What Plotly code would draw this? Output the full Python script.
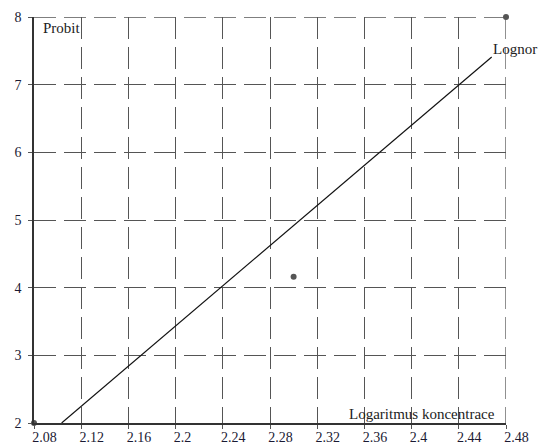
import plotly.graph_objects as go

# data
point_x = [2.08, 2.30, 2.48]
point_y = [2.0, 4.16, 8.0]
lognor_x = [2.1034, 2.4679]
lognor_y = [2.0, 7.41]
x_ticks = [2.08, 2.12, 2.16, 2.20, 2.24, 2.28, 2.32, 2.36, 2.40, 2.44, 2.48]
x_tick_labels = ["2.08", "2.12", "2.16", "2.2", "2.24", "2.28", "2.32", "2.36", "2.4", "2.44", "2.48"]
y_ticks = [2, 3, 4, 5, 6, 7, 8]
y_tick_labels = ["2", "3", "4", "5", "6", "7", "8"]

FONT = "Liberation Serif"
GRID_COLOR = "#555555"
DASH = "22px,8px"

fig = go.Figure()
fig.add_trace(go.Scatter(x=lognor_x, y=lognor_y, mode="lines",
                         line=dict(color="#111111", width=1.2),
                         hoverinfo="skip", showlegend=False, cliponaxis=False))
fig.add_trace(go.Scatter(x=point_x, y=point_y, mode="markers",
                         marker=dict(color="#555555", size=6),
                         showlegend=False, cliponaxis=False))

# top and right borders drawn as dashed grid lines
fig.add_shape(type="line", xref="paper", yref="y", x0=0, x1=1, y0=y_ticks[-1], y1=y_ticks[-1],
              line=dict(color=GRID_COLOR, width=1.3, dash=DASH), layer="below")
fig.add_shape(type="line", xref="x", yref="paper", x0=x_ticks[-1], x1=x_ticks[-1], y0=1, y1=0,
              line=dict(color=GRID_COLOR, width=1.3, dash=DASH), layer="below")

fig.add_annotation(x=lognor_x[-1], y=lognor_y[-1], text="Lognor", showarrow=False,
                   xanchor="left", yanchor="bottom", xshift=-1, yshift=-2,
                   font=dict(family=FONT, size=15, color="#222222"))
fig.add_annotation(x=0, y=1, xref="paper", yref="paper", text="Probit", showarrow=False,
                   xanchor="left", yanchor="top", xshift=7, yshift=-1,
                   font=dict(family=FONT, size=15, color="#222222"))
fig.add_annotation(x=1, y=0, xref="paper", yref="paper", text="Logaritmus koncentrace",
                   showarrow=False, xanchor="right", yanchor="bottom", xshift=-9, yshift=-1,
                   font=dict(family=FONT, size=15, color="#222222"))

grid = dict(showgrid=True, gridcolor=GRID_COLOR, gridwidth=1.3, griddash=DASH,
            zeroline=False, showline=True, linecolor="#333333", linewidth=1.5,
            ticks="outside", ticklen=4, tickcolor="#555555", tickwidth=1,
            automargin=False,
            tickfont=dict(family=FONT, size=14, color="#1a1a33"))

fig.update_xaxes(range=[2.08, 2.48], tickvals=x_ticks, ticktext=x_tick_labels,
                 ticklabelposition="outside right", ticklabelshift=-3, **grid)
fig.update_yaxes(range=[2, 8], tickvals=y_ticks, ticktext=y_tick_labels,
                 ticklabelstandoff=4, **grid)

fig.update_layout(width=540, height=446, margin=dict(l=34, r=34, t=17, b=23),
                  paper_bgcolor="white", plot_bgcolor="white")

fig.write_html("out.html", config={"displayModeBar": False},
               post_script="document.body.style.margin='0';document.body.style.overflow='hidden';")
